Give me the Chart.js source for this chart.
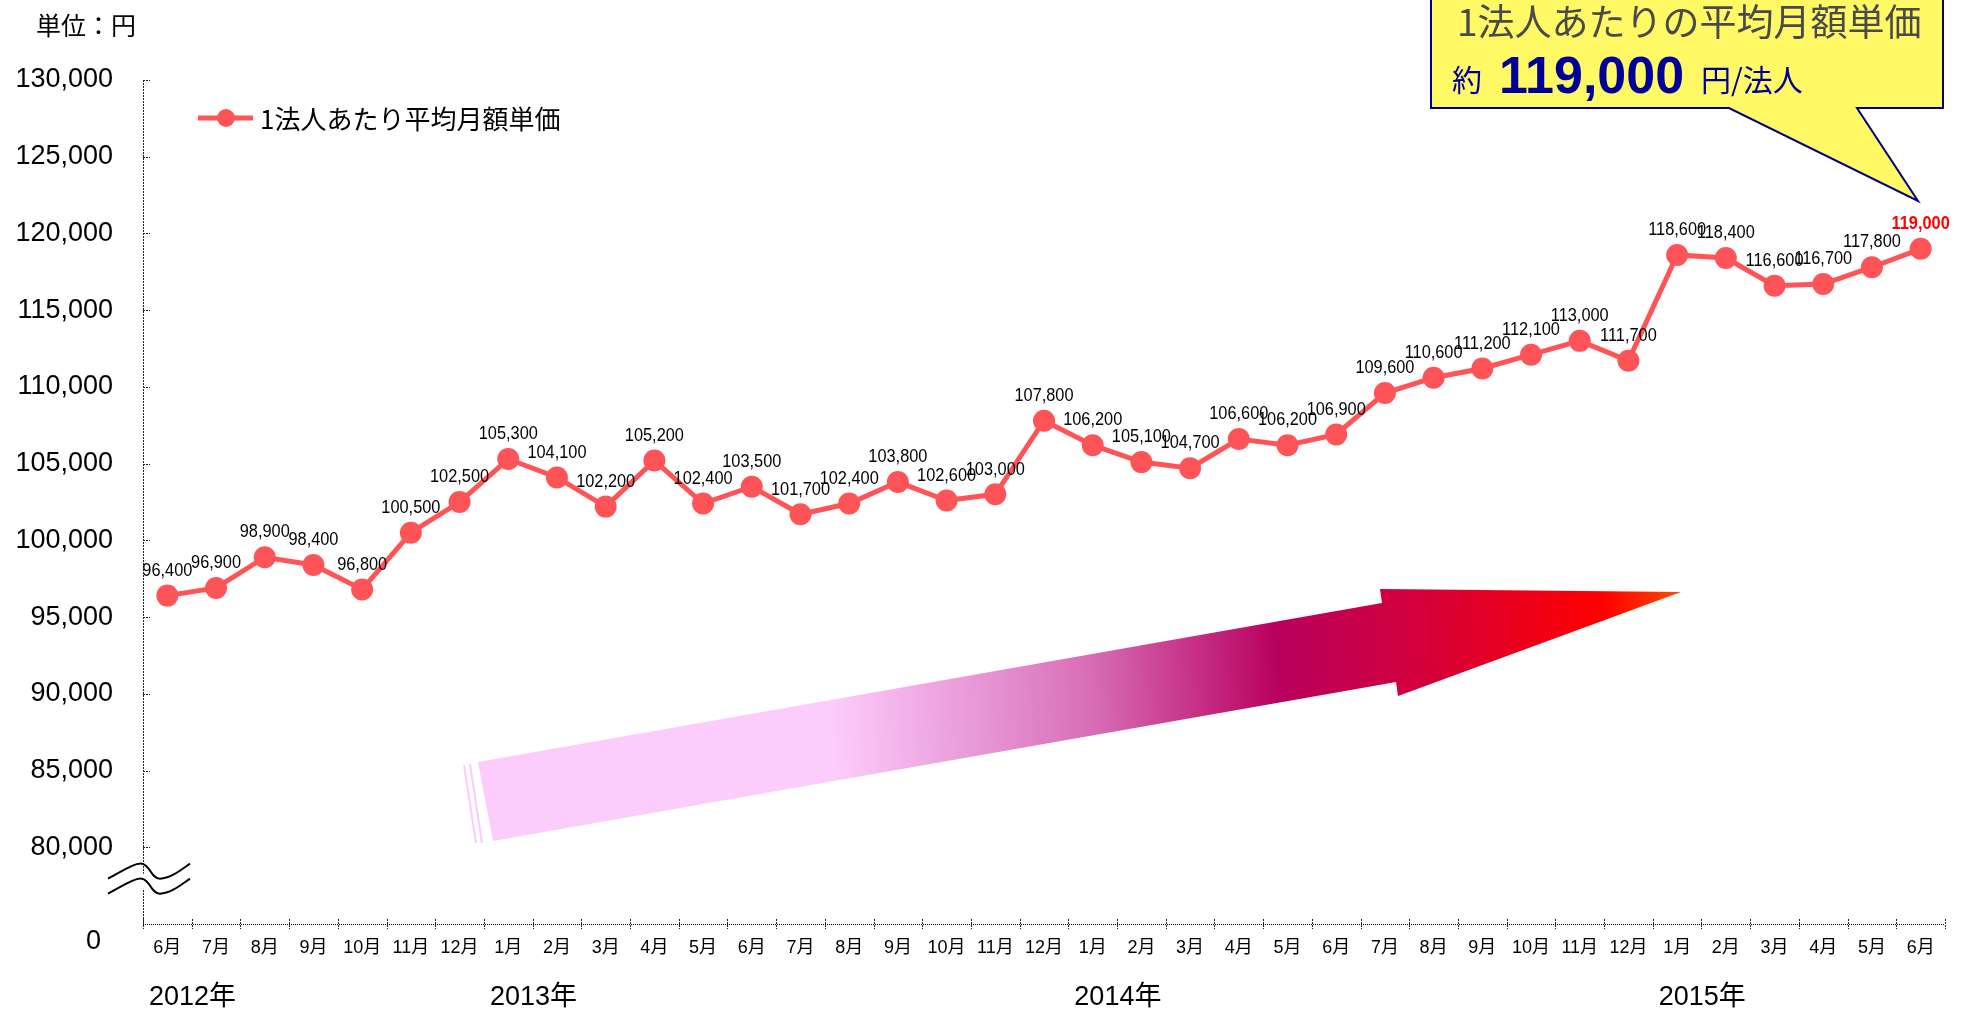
<!DOCTYPE html>
<html lang="ja">
<head>
<meta charset="utf-8">
<script src="https://cdn.jsdelivr.net/npm/chart.js@4/dist/chart.umd.min.js"></script>
<style>
  html, body { margin: 0; padding: 0; background: #fff; }
  #wrap { width: 1970px; height: 1011px; }
</style>
</head>
<body>
<div id="wrap"><canvas id="myChart" width="1970" height="1011"></canvas></div>
<script>
// data
var months = ['6月', '7月', '8月', '9月', '10月', '11月', '12月',
    '1月', '2月', '3月', '4月', '5月', '6月', '7月', '8月', '9月', '10月', '11月', '12月',
    '1月', '2月', '3月', '4月', '5月', '6月', '7月', '8月', '9月', '10月', '11月', '12月',
    '1月', '2月', '3月', '4月', '5月', '6月']
var years = ['2012年', '2013年', '2014年', '2015年']
var yearStart = [0, 7, 19, 31]
var prices = [96400, 96900, 98900, 98400, 96800, 100500, 102500,
    105300, 104100, 102200, 105200, 102400, 103500, 101700, 102400, 103800, 102600, 103000, 107800,
    106200, 105100, 104700, 106600, 106200, 106900, 109600, 110600, 111200, 112100, 113000, 111700,
    118600, 118400, 116600, 116700, 117800, 119000]
var seriesName = '1法人あたり平均月額単価'
var unitLabel = '単位：円'
var calloutTitle = '1法人あたりの平均月額単価'
var calloutValue = '119,000'
var yMin = 75000
var yMax = 130000
var yStep = 5000

var RED = '#FF5457'
var JP = '"Noto Sans CJK JP", "Liberation Sans", sans-serif'
var NUM = '"Liberation Sans", "Noto Sans CJK JP", sans-serif'

function fmt(v) {
    return v.toLocaleString('en-US')
}

var decorations = {
    id: 'decorations',
    beforeDatasetsDraw: function (chart) {
        var ctx = chart.ctx
        var ys = chart.scales.y
        var a = chart.chartArea
        ctx.save()

        // big gradient arrow
        var g = ctx.createLinearGradient(480, 700, 1690, 640)
        g.addColorStop(0, '#FCCCFC')
        g.addColorStop(0.29, '#FCCCFC')
        g.addColorStop(0.5, '#D870B8')
        g.addColorStop(0.66, '#B8005E')
        g.addColorStop(0.78, '#D4003A')
        g.addColorStop(0.93, '#FF0000')
        g.addColorStop(1, '#FF5000')
        ctx.beginPath()
        ctx.moveTo(478, 762)
        ctx.lineTo(1382, 603)
        ctx.lineTo(1380, 589)
        ctx.lineTo(1681, 592)
        ctx.lineTo(1398, 696)
        ctx.lineTo(1396, 682)
        ctx.lineTo(493, 841)
        ctx.closePath()
        ctx.fillStyle = g
        ctx.fill()
        ctx.strokeStyle = '#FCCCFC'
        ctx.lineWidth = 2
        ctx.beginPath()
        ctx.moveTo(464, 765); ctx.lineTo(476, 843)
        ctx.moveTo(470, 764); ctx.lineTo(482, 843)
        ctx.stroke()

        // axes (dotted)
        var catW = (a.right - a.left) / months.length
        ctx.strokeStyle = '#222'
        ctx.lineWidth = 1
        ctx.setLineDash([2, 1])
        ctx.beginPath()
        ctx.moveTo(a.left + 0.5, a.top)
        ctx.lineTo(a.left + 0.5, a.bottom)
        for (var v = yMin + yStep; v <= yMax; v += yStep) {
            var py = Math.round(ys.getPixelForValue(v)) + 0.5
            ctx.moveTo(a.left, py)
            ctx.lineTo(a.left + 7, py)
        }
        for (var i = 0; i <= months.length; i++) {
            var px = Math.round(a.left + i * catW) + 0.5
            ctx.moveTo(px, a.bottom - 5)
            ctx.lineTo(px, a.bottom + 5)
        }
        ctx.stroke()
        ctx.setLineDash([1, 1])
        ctx.strokeStyle = '#000'
        ctx.beginPath()
        ctx.moveTo(a.left, a.bottom + 0.5)
        ctx.lineTo(a.right, a.bottom + 0.5)
        ctx.stroke()
        ctx.setLineDash([])

        // axis break mark
        var yb = ys.getPixelForValue(yMin + yStep / 2)
        var x0 = a.left - 35
        function wave(dy) {
            ctx.moveTo(x0, yb + dy)
            ctx.bezierCurveTo(x0 + 15, yb + dy - 8, x0 + 27, yb + dy - 16, x0 + 34, yb + dy - 15)
            ctx.bezierCurveTo(x0 + 42, yb + dy - 14, x0 + 43, yb + dy, x0 + 52, yb + dy)
            ctx.bezierCurveTo(x0 + 62, yb + dy, x0 + 72, yb + dy - 8, x0 + 82, yb + dy - 15)
        }
        ctx.fillStyle = '#fff'
        ctx.fillRect(a.left - 3, yb - 12, 6, 16)
        ctx.strokeStyle = '#000'
        ctx.lineWidth = 2
        ctx.beginPath()
        wave(-7)
        wave(8)
        ctx.stroke()

        // "0" label at the broken base
        ctx.fillStyle = '#000'
        ctx.font = '27px ' + NUM
        ctx.textAlign = 'right'
        ctx.textBaseline = 'middle'
        ctx.fillText('0', a.left - 42, ys.getPixelForValue(yMin) + 18)

        // year labels
        ctx.textAlign = 'left'
        ctx.font = '27px ' + NUM
        for (var k = 0; k < years.length; k++) {
            ctx.fillText(years[k], a.left + yearStart[k] * catW + 6, 998)
        }

        // unit label
        ctx.font = '25px ' + JP
        ctx.fillText(unitLabel, 36, 25)
        ctx.restore()
    },
    afterDatasetsDraw: function (chart) {
        var ctx = chart.ctx
        var meta = chart.getDatasetMeta(0)
        ctx.save()

        // value labels
        ctx.textAlign = 'center'
        ctx.textBaseline = 'middle'
        meta.data.forEach(function (pt, i) {
            var last = i === prices.length - 1
            ctx.save()
            ctx.translate(pt.x, pt.y - 25)
            ctx.scale(0.86, 1)
            ctx.font = (last ? 'bold ' : '') + '19px ' + NUM
            ctx.fillStyle = last ? '#FF0000' : '#000'
            ctx.fillText(fmt(prices[i]), 0, 0)
            ctx.restore()
        })

        // legend
        ctx.strokeStyle = RED
        ctx.lineWidth = 5
        ctx.beginPath()
        ctx.moveTo(198, 118)
        ctx.lineTo(253, 118)
        ctx.stroke()
        ctx.fillStyle = RED
        ctx.beginPath()
        ctx.arc(226, 118, 9, 0, Math.PI * 2)
        ctx.fill()
        ctx.fillStyle = '#000'
        ctx.textAlign = 'left'
        ctx.font = '26px ' + JP
        ctx.fillText(seriesName, 260, 119)

        // callout
        ctx.beginPath()
        ctx.moveTo(1431, -5)
        ctx.lineTo(1943, -5)
        ctx.lineTo(1943, 108)
        ctx.lineTo(1857, 108)
        ctx.lineTo(1918, 201)
        ctx.lineTo(1729, 108)
        ctx.lineTo(1431, 108)
        ctx.closePath()
        ctx.fillStyle = '#FFF966'
        ctx.fill()
        ctx.strokeStyle = '#000080'
        ctx.lineWidth = 2
        ctx.stroke()
        ctx.fillStyle = '#4A4A4A'
        ctx.font = '37px ' + JP
        ctx.textBaseline = 'middle'
        ctx.fillText(calloutTitle, 1457, 22)
        ctx.textBaseline = 'alphabetic'
        ctx.fillStyle = '#000099'
        ctx.font = '30px ' + JP
        ctx.fillText('約', 1452, 91)
        ctx.font = 'bold 52px ' + NUM
        ctx.fillText(calloutValue, 1499, 93)
        ctx.font = '30px ' + JP
        ctx.fillText('円/法人', 1701, 91)
        ctx.restore()
    }
}

var myChart = new Chart(document.getElementById('myChart').getContext('2d'), {
    type: 'line',
    data: {
        labels: months,
        datasets: [
            {
                label: seriesName,
                data: prices,
                borderColor: RED,
                backgroundColor: RED,
                borderWidth: 5,
                pointRadius: 11,
                pointHoverRadius: 11,
                pointBorderWidth: 0,
                pointBackgroundColor: RED,
                tension: 0
            }
        ]
    },
    options: {
        responsive: false,
        animation: false,
        layout: { padding: { top: 80, right: 25, bottom: 0, left: 0 } },
        plugins: {
            legend: { display: false },
            tooltip: { enabled: false }
        },
        scales: {
            x: {
                offset: true,
                grid: { display: false, drawTicks: false, tickLength: 0 },
                border: { display: false },
                ticks: {
                    autoSkip: false,
                    maxRotation: 0,
                    padding: 13,
                    color: '#000',
                    font: { family: NUM, size: 18 }
                },
                afterFit: function (s) { s.height = 87 }
            },
            y: {
                min: yMin,
                max: yMax,
                grid: { display: false, drawTicks: false, tickLength: 0 },
                border: { display: false },
                ticks: {
                    stepSize: yStep,
                    padding: 30,
                    color: '#000',
                    font: { family: NUM, size: 27 },
                    callback: function (v) { return v === yMin ? '' : fmt(v) }
                },
                afterFit: function (s) { s.width = 143 }
            }
        }
    },
    plugins: [decorations]
})
</script>
</body>
</html>
